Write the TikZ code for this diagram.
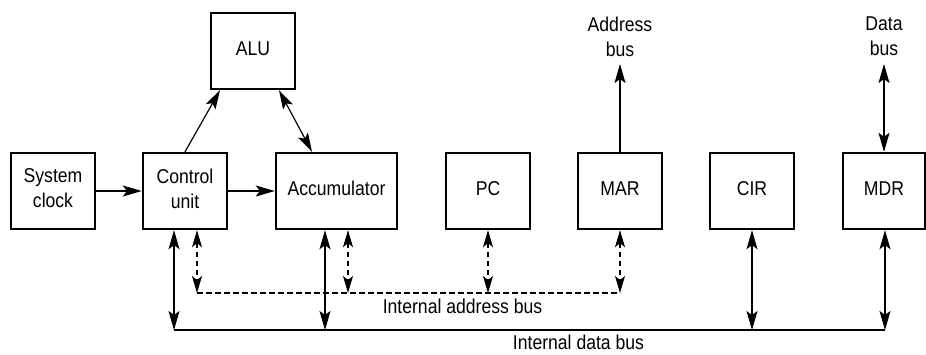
\documentclass[tikz,border=0pt]{standalone}
\usepackage{fontspec}
\setmainfont{Liberation Sans}[FakeStretch=0.88]
\usetikzlibrary{arrows.meta}
\tikzset{
  box/.style={draw, line width=2.4pt, minimum width=84pt, minimum height=76pt,
    inner sep=0pt, align=center, text depth=5pt},
  conn/.style={line width=1.2pt},
  sarr/.style={conn, -{Stealth[length=19pt,width=11pt,inset=4pt]}},
  darr/.style={conn, {Stealth[length=19pt,width=11pt,inset=4pt]}-{Stealth[length=19pt,width=11pt,inset=4pt]}},
  dasharr/.style={conn, {Stealth[length=17pt,width=10pt,inset=4pt]}-{Stealth[length=17pt,width=10pt,inset=4pt]}, dash pattern=on 5.5pt off 3.5pt},
  lbl/.style={align=center, inner sep=0pt},
}
\begin{document}
\begin{tikzpicture}[x=1pt,y=-1pt, font=\fontsize{20}{25}\selectfont]
\useasboundingbox (0,0) rectangle (926,354);
% boxes
\node[box] (clock) at (53,191) {System\\clock};
\node[box] (ctrl) at (185,191) {Control\\unit};
\node[box, minimum width=121pt] (acc) at (336.5,191) {Accumulator};
\node[box] (pc) at (488,191) {PC};
\node[box] (mar) at (620,191) {MAR};
\node[box] (cir) at (752,191) {CIR};
\node[box, minimum width=82pt] (mdr) at (884,191) {MDR};
\node[box] (alu) at (253,51) {ALU};
% external labels
\node[lbl] (abus) at (620,36.5) {Address\\bus};
\node[lbl] (dbus) at (884,36.5) {Data\\bus};
\coordinate (abtop) at (620,64);
\coordinate (dbtop) at (884,64);
% bus coordinates
\coordinate (dbL) at (174,330);
\coordinate (dbR) at (885,330);
\coordinate (abL) at (197,293);
\coordinate (abR) at (620,293);
\coordinate (dAcc) at (325,330);
\coordinate (dCir) at (752,330);
\coordinate (aAcc) at (348,293);
\coordinate (aPc) at (488,293);
% top connectors
\draw[sarr] (clock.east) -- (ctrl.west);
\draw[sarr] (ctrl.east) -- (acc.west);
\draw[sarr] (ctrl.north) -- ([xshift=-33pt]alu.south);
\draw[darr] ([xshift=26pt]alu.south) -- ([xshift=-24.5pt]acc.north);
\draw[sarr] (mar.north) -- (abtop);
\draw[darr] (dbtop) -- (mdr.north);
% buses
\draw[conn] (dbL) -- (dbR);
\draw[conn, dash pattern=on 5.5pt off 3.5pt] (abL) -- (abR);
% data bus drops
\draw[darr] (ctrl.south -| dbL) -- (dbL);
\draw[darr] (acc.south -| dAcc) -- (dAcc);
\draw[darr] (cir.south) -- (dCir);
\draw[darr] (mdr.south -| dbR) -- (dbR);
% address bus drops
\draw[dasharr] (ctrl.south -| abL) -- (abL);
\draw[dasharr] (acc.south -| aAcc) -- (aAcc);
\draw[dasharr] (pc.south) -- (aPc);
\draw[dasharr] (mar.south) -- (abR);
% bus labels
\node[anchor=base, inner sep=0pt] (ablbl) at (462.5,313) {Internal address bus};
\node[anchor=base, inner sep=0pt] (dblbl) at (578.5,349) {Internal data bus};
\end{tikzpicture}
\end{document}
